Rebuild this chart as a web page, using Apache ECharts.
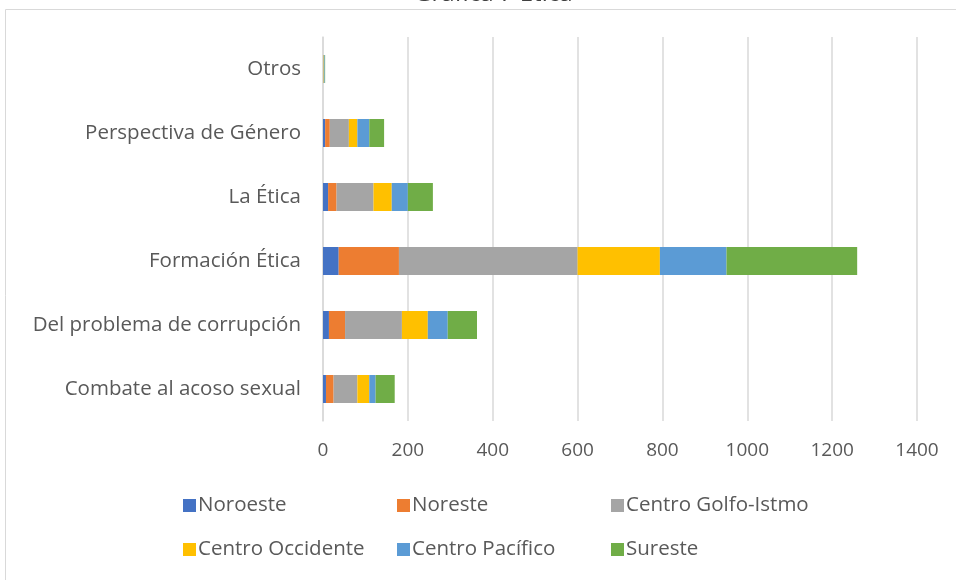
<!DOCTYPE html>
<html>
<head>
<meta charset="utf-8">
<script src="https://cdn.jsdelivr.net/npm/echarts@6/dist/echarts.min.js"></script>
<style>
  html, body { margin: 0; padding: 0; background: #fff; }
  #chart1 { width: 956px; height: 580px; }
</style>
</head>
<body>
<div id="chart1"></div>
<script>
// categories, top to bottom
var categories = ['Otros', 'Perspectiva de Género', 'La Ética', 'Formación Ética',
  'Del problema de corrupción', 'Combate al acoso sexual'];

var noroeste        = [0, 5, 12, 37, 14, 7];
var noreste         = [0, 11, 20, 142, 38, 18];
var centroGolfo     = [1, 45, 87, 421, 134, 56];
var centroOccidente = [1, 20, 43, 194, 61, 28];
var centroPacifico  = [2, 28, 38, 157, 47, 15];
var sureste         = [1, 35, 59, 308, 69, 45];

var seriesNames = ['Noroeste', 'Noreste', 'Centro Golfo-Istmo',
  'Centro Occidente', 'Centro Pacífico', 'Sureste'];
var seriesData = [noroeste, noreste, centroGolfo, centroOccidente, centroPacifico, sureste];
var colors = ['#4472C4', '#ED7D31', '#A5A5A5', '#FFC000', '#5B9BD5', '#70AD47'];

var xTicks = [0, 200, 400, 600, 800, 1000, 1200, 1400];

var font = 'Open Sans';
var textGray = '#595959';

var dom = document.getElementById('chart1');
var myChart = echarts.init(dom);

// legend: 3 columns, 2 rows
var legendPos = [[178, 490], [392, 490], [606, 490], [178, 534], [392, 534], [606, 534]];
var legends = seriesNames.map(function (name, i) {
  return {
    data: [name],
    left: legendPos[i][0],
    top: legendPos[i][1],
    icon: 'rect',
    itemWidth: 13,
    itemHeight: 13,
    itemGap: 0,
    textStyle: { color: textGray, fontSize: 20.5, fontFamily: font, padding: [0, 0, 0, -3] }
  };
});

var option = {
  animation: false,
  color: colors,
  title: {
    text: 'Gráfica 7 Ética',
    left: 409,
    top: -23,
    textStyle: { color: '#404040', fontSize: 24, fontWeight: 'normal', fontFamily: font }
  },
  graphic: [{
    type: 'rect',
    shape: { x: 5.5, y: 9.5, width: 1000, height: 1000 },
    style: { fill: 'none', stroke: '#d9d9d9', lineWidth: 1 },
    silent: true
  }],
  legend: legends,
  grid: { left: 323, right: 39, top: 37, bottom: 159, containLabel: false },
  xAxis: {
    type: 'value',
    min: xTicks[0],
    max: xTicks[xTicks.length - 1],
    interval: 200,
    axisLine: { show: false },
    axisTick: { show: false },
    splitLine: { lineStyle: { color: '#d9d9d9', width: 1.5 } },
    axisLabel: {
      color: textGray, fontSize: 19, fontFamily: font, margin: 20,
      formatter: function (v) { return String(v); }
    }
  },
  yAxis: {
    type: 'category',
    data: categories,
    inverse: true,
    axisLine: { show: true, lineStyle: { color: '#d9d9d9', width: 1.5 } },
    axisTick: { show: false },
    axisLabel: { color: textGray, fontSize: 20.5, fontFamily: font, margin: 22 }
  },
  series: seriesNames.map(function (name, i) {
    return {
      name: name,
      type: 'bar',
      stack: 'total',
      barWidth: 28,
      data: seriesData[i]
    };
  })
};

myChart.setOption(option, true);
</script>
</body>
</html>
